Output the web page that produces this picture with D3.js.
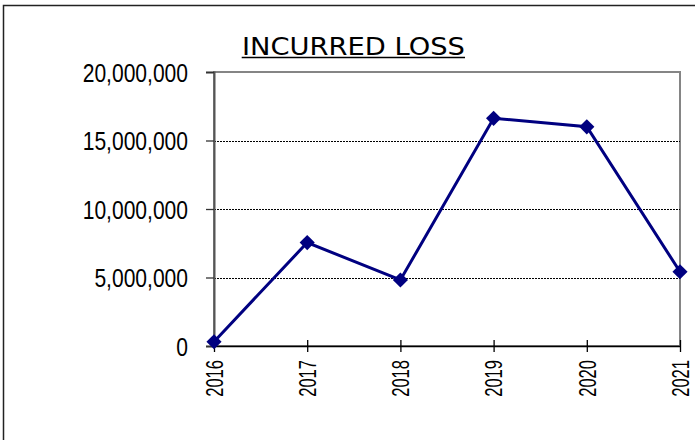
<!DOCTYPE html>
<html>
<head>
<meta charset="utf-8">
<script src="https://cdn.jsdelivr.net/npm/d3@7"></script>
<style>
  body { margin: 0; background: #fff; }
  svg { display: block; }
</style>
</head>
<body>
<div id="chart"></div>
<script>
// Data
const years = ['2016', '2017', '2018', '2019', '2020', '2021'];
const losses = [310000, 7550000, 4820000, 16620000, 16000000, 5420000];
const yTicks = [0, 5000000, 10000000, 15000000, 20000000];
const title = 'INCURRED LOSS';

const width = 695;
const height = 440;
const margin = { left: 214, right: 15, top: 72, bottom: 94 };

const svg = d3.select('#chart')
  .append('svg')
  .attr('width', width)
  .attr('height', height);

// outer frame
svg.append('rect')
  .attr('x', 3.5)
  .attr('y', 5.5)
  .attr('width', 900)
  .attr('height', 900)
  .attr('fill', 'none')
  .attr('stroke', '#222')
  .attr('stroke-width', 1.5);

// Scales
const x = d3.scalePoint()
  .domain(years)
  .range([margin.left, width - margin.right]);
const y = d3.scaleLinear()
  .domain([0, 20000000])
  .range([height - margin.bottom, margin.top]);

// Title
const titleText = svg.append('text')
  .attr('x', 353.4)
  .attr('y', 55)
  .attr('text-anchor', 'middle')
  .attr('font-family', 'DejaVu Sans, Verdana, sans-serif')
  .attr('font-size', 25)
  .attr('textLength', 223)
  .attr('lengthAdjust', 'spacingAndGlyphs')
  .attr('fill', '#000')
  .text(title);
svg.append('line')
  .attr('x1', 241.7)
  .attr('x2', 465)
  .attr('y1', 57.5)
  .attr('y2', 57.5)
  .attr('stroke', '#000')
  .attr('stroke-width', 1.5);

// Plot area frame
svg.append('rect')
  .attr('x', x.range()[0])
  .attr('y', y(20000000))
  .attr('width', x.range()[1] - x.range()[0])
  .attr('height', y(0) - y(20000000))
  .attr('fill', 'none')
  .attr('stroke', '#858585')
  .attr('stroke-width', 2);

// Gridlines
svg.append('g')
  .selectAll('line')
  .data(yTicks.filter(d => d > 0 && d < 20000000))
  .join('line')
  .attr('x1', x.range()[0])
  .attr('x2', x.range()[1])
  .attr('y1', d => Math.round(y(d)) + 0.5)
  .attr('y2', d => Math.round(y(d)) + 0.5)
  .attr('stroke', '#000')
  .attr('stroke-width', 1)
  .attr('stroke-dasharray', '2,1');

// Y-axis
const yAxis = svg.append('g')
  .attr('transform', 'translate(' + x.range()[0] + ',0)')
  .call(d3.axisLeft(y).tickValues(yTicks).tickSize(8).tickPadding(0).tickFormat(d3.format(',')));
yAxis.select('.domain')
  .attr('stroke', '#555')
  .attr('stroke-width', 2);
yAxis.selectAll('.tick line')
  .attr('stroke', '#333')
  .attr('stroke-width', 1.3);
yAxis.selectAll('.tick text')
  .attr('x', 0)
  .attr('dy', '0.36em')
  .attr('font-family', 'Liberation Sans, Arial, sans-serif')
  .attr('font-size', 26)
  .attr('fill', '#000')
  .attr('transform', 'translate(-26,0) scale(0.81,1)');

// X-axis
const xAxis = svg.append('g')
  .attr('transform', 'translate(0,' + y(0) + ')')
  .call(d3.axisBottom(x).tickSizeInner(6).tickSizeOuter(0).tickPadding(0));
xAxis.select('.domain')
  .attr('stroke', '#000')
  .attr('stroke-width', 1.6);
xAxis.selectAll('.tick line')
  .attr('y1', -6)
  .attr('y2', 6)
  .attr('stroke', '#000')
  .attr('stroke-width', 1.3);
xAxis.selectAll('.tick text')
  .attr('x', 0)
  .attr('y', 0)
  .attr('dy', '0.36em')
  .attr('text-anchor', 'end')
  .attr('font-family', 'Liberation Sans, Arial, sans-serif')
  .attr('font-size', 23)
  .attr('fill', '#000')
  .attr('transform', 'translate(0,14) rotate(-90) scale(0.72,1)');

// Line
const line = d3.line()
  .x((d, i) => x(years[i]))
  .y(d => y(d));
svg.append('path')
  .datum(losses)
  .attr('d', line)
  .attr('fill', 'none')
  .attr('stroke', '#000080')
  .attr('stroke-width', 3);

// Markers
const diamond = d3.symbol().type(d3.symbolSquare).size(115);
svg.append('g')
  .selectAll('path')
  .data(losses)
  .join('path')
  .attr('d', diamond)
  .attr('transform', (d, i) => 'translate(' + x(years[i]) + ',' + y(d) + ') rotate(45)')
  .attr('fill', '#000080');
</script>
</body>
</html>
